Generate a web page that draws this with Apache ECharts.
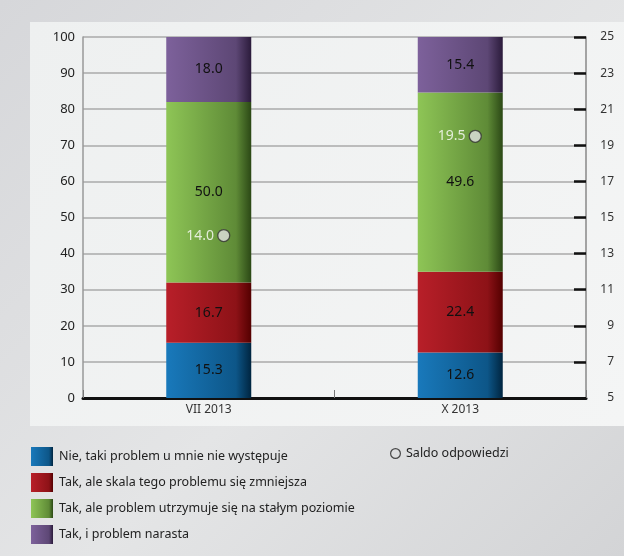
<!DOCTYPE html>
<html>
<head>
<meta charset="utf-8">
<script src="https://cdn.jsdelivr.net/npm/echarts@6/dist/echarts.min.js"></script>
<style>
html,body{margin:0;padding:0;}
body{width:624px;height:556px;background:linear-gradient(135deg,#d6d7da 0%,#e4e5e6 55%,#d3d4d6 100%);}
#c{width:624px;height:556px;}
</style>
</head>
<body>
<div id="c"></div>
<script>
const categories = ['VII 2013', 'X 2013'];
const seriesNames = [
  'Nie, taki problem u mnie nie występuje',
  'Tak, ale skala tego problemu się zmniejsza',
  'Tak, ale problem utrzymuje się na stałym poziomie',
  'Tak, i problem narasta'
];
const nieValues = [15.3, 12.6];
const zmniejszaValues = [16.7, 22.4];
const stalyValues = [50.0, 49.6];
const narastaValues = [18.0, 15.4];
const saldoName = 'Saldo odpowiedzi';
const saldoValues = [14.0, 19.5];

const FONT = '"Noto Sans", "Open Sans", sans-serif';

function grad(c0, c1, c2) {
  return new echarts.graphic.LinearGradient(0, 0, 1, 0, [
    {offset: 0, color: c0},
    {offset: 0.82, color: c1},
    {offset: 1, color: c2}
  ]);
}
const barColors = [
  grad('#1979bb', '#0d5688', '#002540'),
  grad('#b81f29', '#8d1217', '#540000'),
  grad('#8ec556', '#5f8b37', '#2b4815'),
  grad('#7d619b', '#5d4775', '#2b1b3b')
];
const barData = [nieValues, zmniejszaValues, stalyValues, narastaValues];

const chart = echarts.init(document.getElementById('c'), null, {renderer: 'canvas'});

const barSeries = barData.map((vals, i) => ({
  name: seriesNames[i],
  type: 'bar',
  stack: 'total',
  barWidth: 85,
  data: vals,
  itemStyle: {color: barColors[i]},
  label: {
    show: true,
    position: 'inside',
    color: '#111',
    fontSize: 14,
    fontFamily: FONT,
    formatter: p => p.value.toFixed(1)
  },
  emphasis: {disabled: true},
  z: 3
}));

const ringIcon = 'path://M50,0A50,50,0,1,1,50,100A50,50,0,1,1,50,0ZM50,11A39,39,0,1,0,50,89A39,39,0,1,0,50,11Z';

chart.setOption({
  animation: false,
  backgroundColor: 'transparent',
  textStyle: {fontFamily: FONT},
  graphic: [{
    type: 'rect',
    z: -100,
    shape: {x: 30, y: 22, width: 594, height: 404},
    style: {
      fill: new echarts.graphic.LinearGradient(0, 0, 1, 1, [
        {offset: 0, color: '#eef0f0'},
        {offset: 1, color: '#f4f5f5'}
      ])
    },
    silent: true
  }],
  grid: {left: 83, right: 38, top: 37, bottom: 158, containLabel: false},
  legend: [{
    orient: 'vertical',
    left: 31,
    top: 447,
    padding: 0,
    icon: 'rect',
    itemWidth: 22,
    itemHeight: 19,
    itemGap: 7,
    selectedMode: false,
    data: seriesNames,
    textStyle: {fontSize: 12.5, color: '#222', fontFamily: FONT, padding: [0, 0, 0, 1]}
  }, {
    orient: 'vertical',
    left: 390,
    top: 447,
    padding: 0,
    itemWidth: 11,
    itemHeight: 11,
    selectedMode: false,
    itemStyle: {color: '#222', borderWidth: 0},
    data: [{name: saldoName, icon: ringIcon}],
    textStyle: {fontSize: 12.5, color: '#222', fontFamily: FONT}
  }],
  xAxis: {
    type: 'category',
    data: categories,
    axisLine: {show: true, lineStyle: {color: '#111', width: 3}},
    axisTick: {show: true, inside: true, length: 8, lineStyle: {color: '#777', width: 1}},
    axisLabel: {color: '#333', fontSize: 12, margin: 6, fontFamily: FONT},
    splitLine: {show: false}
  },
  yAxis: [{
    type: 'value',
    min: 0,
    max: 100,
    interval: 10,
    position: 'left',
    axisLine: {show: true, lineStyle: {color: '#999', width: 1.5}},
    axisTick: {show: false},
    axisLabel: {color: '#222', fontSize: 13, margin: 8, fontFamily: FONT},
    splitLine: {show: true, lineStyle: {color: '#aaa', width: 1.5}}
  }, {
    type: 'value',
    min: 5,
    max: 25,
    interval: 2,
    position: 'right',
    axisLine: {show: true, lineStyle: {color: '#888', width: 1.5}},
    axisTick: {show: true, inside: true, length: 12, lineStyle: {color: '#111', width: 2.5}},
    axisLabel: {color: '#333', fontSize: 12, margin: 28, align: 'right', fontFamily: FONT},
    splitLine: {show: false}
  }],
  series: barSeries.concat([{
    name: saldoName,
    type: 'scatter',
    yAxisIndex: 1,
    data: saldoValues,
    symbol: 'circle',
    symbolSize: 12,
    symbolOffset: [15, 0],
    itemStyle: {color: '#e2e2e4', borderColor: '#333', borderWidth: 1.3},
    label: {
      show: true,
      position: 'left',
      distance: 3,
      color: '#fff',
      fontSize: 14,
      fontFamily: FONT,
      formatter: p => p.value.toFixed(1)
    },
    emphasis: {disabled: true},
    z: 5
  }])
});
</script>
</body>
</html>
